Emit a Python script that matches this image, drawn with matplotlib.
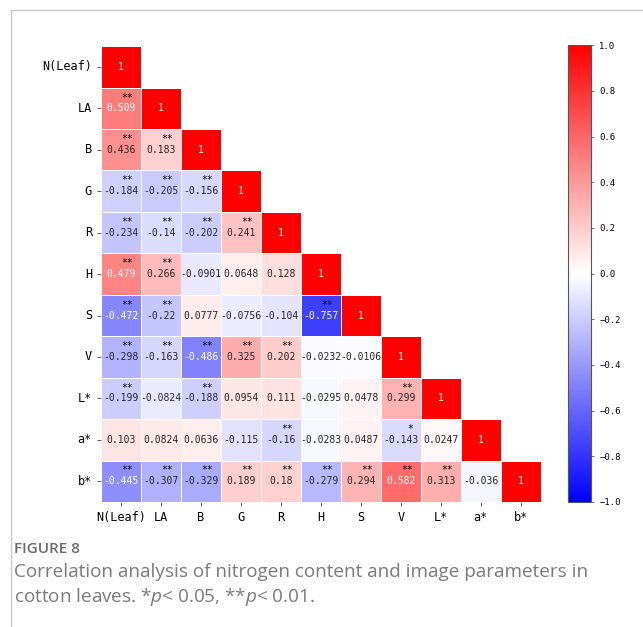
import numpy as np
import matplotlib
matplotlib.use("Agg")
import matplotlib.pyplot as plt
import seaborn as sns
from matplotlib.lines import Line2D

# variable names
labels = ["N(Leaf)", "LA", "B", "G", "R", "H", "S", "V", "L*", "a*", "b*"]

# lower triangle of the correlation matrix, row by row
rows = [
    [1],
    [0.509, 1],
    [0.436, 0.183, 1],
    [-0.184, -0.205, -0.156, 1],
    [-0.234, -0.14, -0.202, 0.241, 1],
    [0.479, 0.266, -0.0901, 0.0648, 0.128, 1],
    [-0.472, -0.22, 0.0777, -0.0756, -0.104, -0.757, 1],
    [-0.298, -0.163, -0.486, 0.325, 0.202, -0.0232, -0.0106, 1],
    [-0.199, -0.0824, -0.188, 0.0954, 0.111, -0.0295, 0.0478, 0.299, 1],
    [0.103, 0.0824, 0.0636, -0.115, -0.16, -0.0283, 0.0487, -0.143, 0.0247, 1],
    [-0.445, -0.307, -0.329, 0.189, 0.18, -0.279, 0.294, 0.582, 0.313, -0.036, 1],
]

# significance marks, same layout
sig = [
    [""],
    ["**", ""],
    ["**", "**", ""],
    ["**", "**", "**", ""],
    ["**", "**", "**", "**", ""],
    ["**", "**", "", "", "", ""],
    ["**", "**", "", "", "", "**", ""],
    ["**", "**", "**", "**", "**", "", "", ""],
    ["**", "", "**", "", "", "", "", "**", ""],
    ["", "", "", "", "**", "", "", "*", "", ""],
    ["**", "**", "**", "**", "**", "**", "**", "**", "**", "", ""],
]

n = len(labels)
corr = np.full((n, n), np.nan)
for i, r in enumerate(rows):
    corr[i, :len(r)] = r
mask = np.triu(np.ones((n, n), dtype=bool), k=1)

mono = "DejaVu Sans Mono"

fig = plt.figure(figsize=(6.43, 6.27), dpi=100)
ax = fig.add_axes([0.157, 0.1994, 0.684, 0.727])
cax = fig.add_axes([0.8835, 0.1994, 0.0355, 0.7285])

sns.heatmap(corr, mask=mask, cmap="bwr", vmin=-1, vmax=1, ax=ax, cbar_ax=cax,
            annot=True, fmt=".3g", linewidths=0.6, linecolor="white",
            annot_kws={"fontsize": 7.0, "family": mono},
            xticklabels=labels, yticklabels=labels)

# stars in the upper right corner of each cell
for i in range(n):
    for j in range(i + 1):
        if sig[i][j]:
            ax.text(j + 0.8, i + 0.24, sig[i][j], ha="right", va="center",
                    fontsize=7, family=mono, color="black")

ax.tick_params(axis="both", length=3, width=0.6, color="#444444")
for t in ax.get_xticklabels():
    t.set_rotation(0)
    t.set_family(mono)
    t.set_fontsize(8.6)
for t in ax.get_yticklabels():
    t.set_rotation(0)
    t.set_family(mono)
    t.set_fontsize(8.6)

cb = ax.collections[0].colorbar
cb.set_ticks(np.arange(-1.0, 1.01, 0.2))
cb.ax.tick_params(labelsize=6.4, length=2.5, width=0.6, color="#555555")
for t in cb.ax.get_yticklabels():
    t.set_family(mono)
cb.outline.set_visible(True)
cb.outline.set_edgecolor("#555555")
cb.outline.set_linewidth(0.8)

# panel border
fig.add_artist(Line2D([11 / 643, 1.0], [1 - 9.5 / 627, 1 - 9.5 / 627],
                      transform=fig.transFigure, color="#c8c8c8", lw=1))
fig.add_artist(Line2D([11 / 643, 11 / 643], [0.0, 1 - 9.5 / 627],
                      transform=fig.transFigure, color="#c8c8c8", lw=1))

# caption
plt.rcParams["mathtext.fontset"] = "custom"
plt.rcParams["mathtext.it"] = "Open Sans:italic"
plt.rcParams["mathtext.rm"] = "Open Sans"
fig.text(14 / 643, 1 - 549 / 627, "FIGURE 8", fontsize=11, family="Open Sans",
         weight="semibold", color="#6a6a6a", va="center")
fig.text(14 / 643, 1 - 572 / 627,
         "Correlation analysis of nitrogen content and image parameters in",
         fontsize=13.6, family="Open Sans", color="#7a7a7a", va="center")
fig.text(14 / 643, 1 - 597 / 627,
         r"cotton leaves. *$\it{p}$< 0.05, **$\it{p}$< 0.01.",
         fontsize=13.6, family="Open Sans", color="#7a7a7a", va="center")

fig.savefig("out.png", dpi=100)
